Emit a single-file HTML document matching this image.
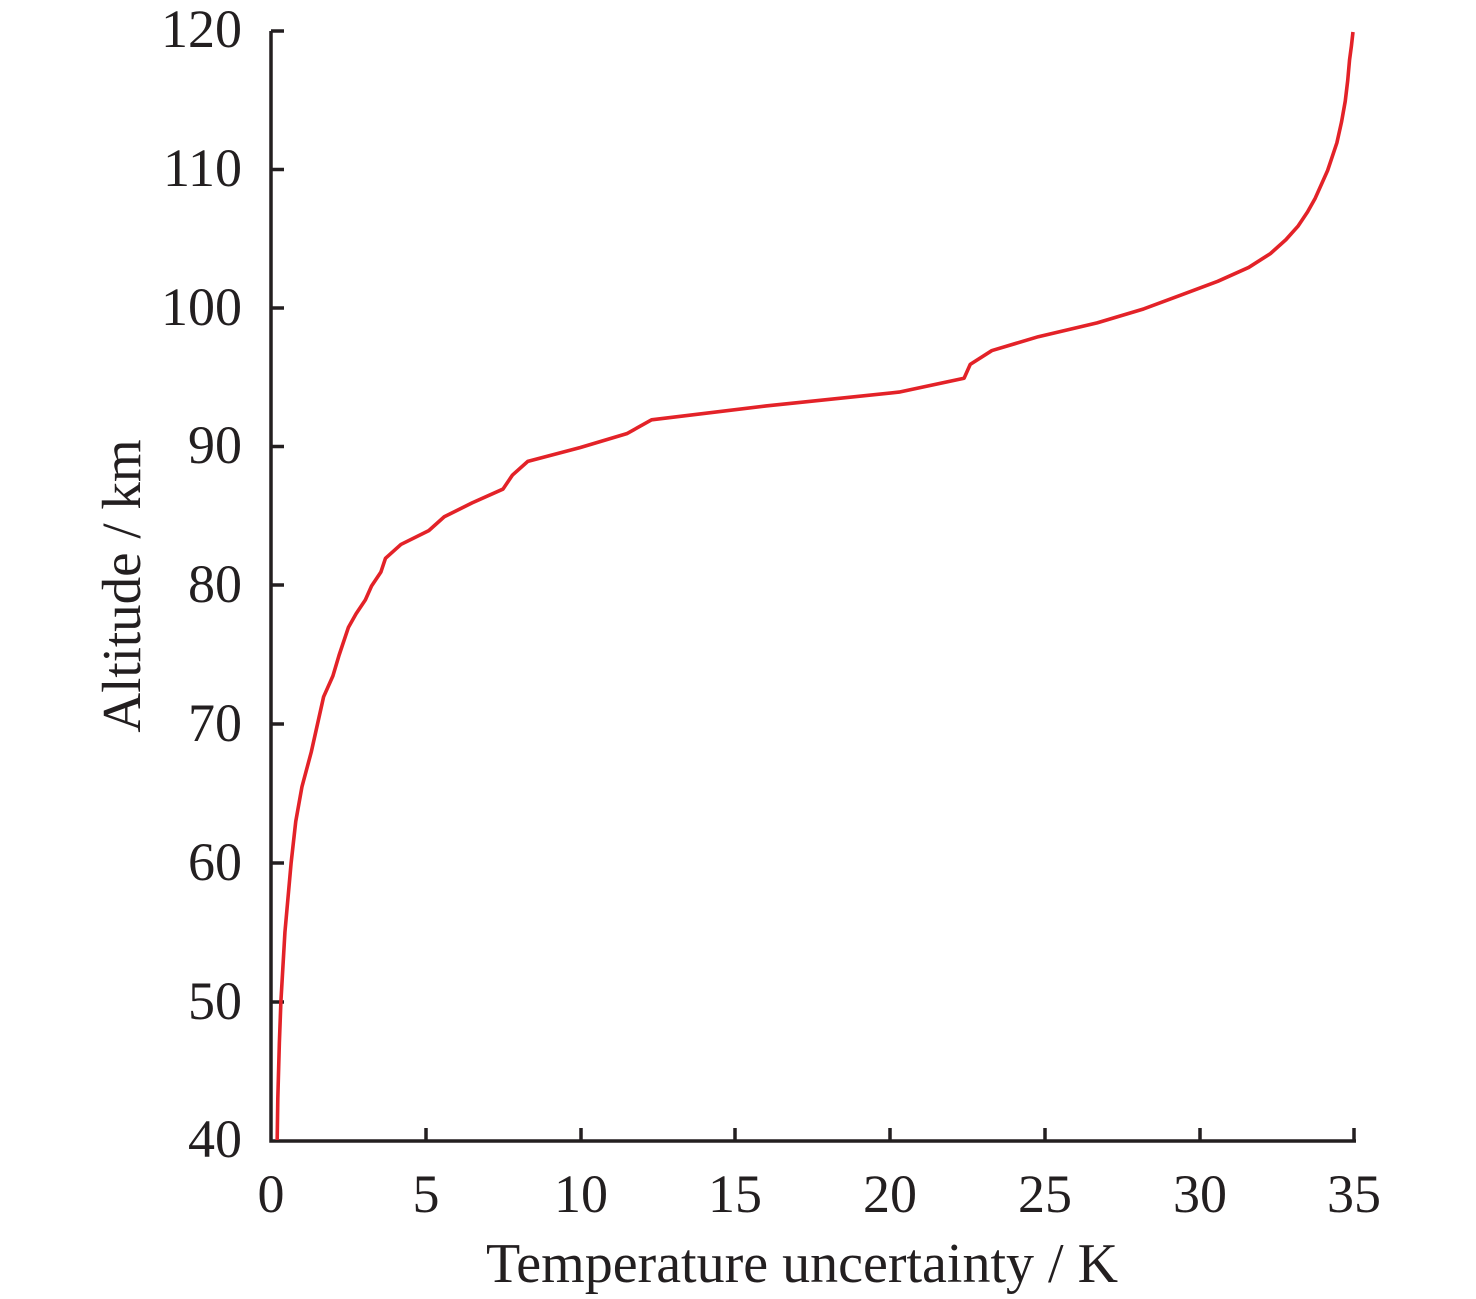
<!DOCTYPE html>
<html><head><meta charset="utf-8"><style>
html,body{margin:0;padding:0;background:#fff;}
svg{display:block;}
text{font-family:"Liberation Serif",serif;fill:#231f20;}
</style></head><body>
<svg width="1476" height="1299" viewBox="0 0 1476 1299" xmlns="http://www.w3.org/2000/svg">
<g stroke="#231f20" stroke-width="3.5" fill="none">
<path d="M271,31 V1141 H1356"/>
<path d="M271,31h13 M271,169.5h13 M271,308h13 M271,446.5h13 M271,585h13 M271,724h13 M271,863h13 M271,1002h13"/>
<path d="M426,1141v-13 M581,1141v-13 M735,1141v-13 M890,1141v-13 M1045,1141v-13 M1200,1141v-13 M1354,1141v-13"/>
</g>
<g font-size="54" text-anchor="end">
<text x="242" y="47">120</text><text x="242" y="186">110</text><text x="242" y="325">100</text>
<text x="242" y="463">90</text><text x="242" y="602">80</text><text x="242" y="741">70</text>
<text x="242" y="880">60</text><text x="242" y="1019">50</text><text x="242" y="1157">40</text>
</g>
<g font-size="54" text-anchor="middle">
<text x="271" y="1212">0</text><text x="426" y="1212">5</text><text x="581" y="1212">10</text>
<text x="735" y="1212">15</text><text x="890" y="1212">20</text><text x="1045" y="1212">25</text>
<text x="1200" y="1212">30</text><text x="1354" y="1212">35</text>
</g>
<text x="802" y="1282" font-size="56" text-anchor="middle">Temperature uncertainty / K</text>
<text transform="translate(140,586) rotate(-90)" font-size="55" text-anchor="middle">Altitude / km</text>
<g transform="translate(271,1140) scale(30.94,-13.85) translate(0,-40)">
<polyline vector-effect="non-scaling-stroke" fill="none" stroke="#e32228" stroke-width="3.6" stroke-linejoin="round"
points="0.2,40 0.22,43 0.27,47 0.32,50 0.45,55 0.65,60 0.8,63 1.0,65.5 1.3,68 1.55,70.5 1.7,72 2.0,73.5 2.2,75 2.5,77 2.75,78 3.05,79 3.25,80 3.55,81 3.7,82 4.2,83 5.1,84 5.6,85 6.5,86 7.5,87 7.8,88 8.3,89 10,90 11.5,91 12.3,92 16,93 20.3,94 22.4,95 22.6,96 23.3,97 24.8,98 26.7,99 28.2,100 29.4,101 30.6,102 31.6,103 32.3,104 32.8,105 33.2,106 33.5,107 33.75,108 33.95,109 34.15,110 34.3,111 34.45,112 34.6,113.5 34.72,115 34.8,116.5 34.86,118 34.92,119 34.97,120"/>
</g>
</svg>
</body></html>
